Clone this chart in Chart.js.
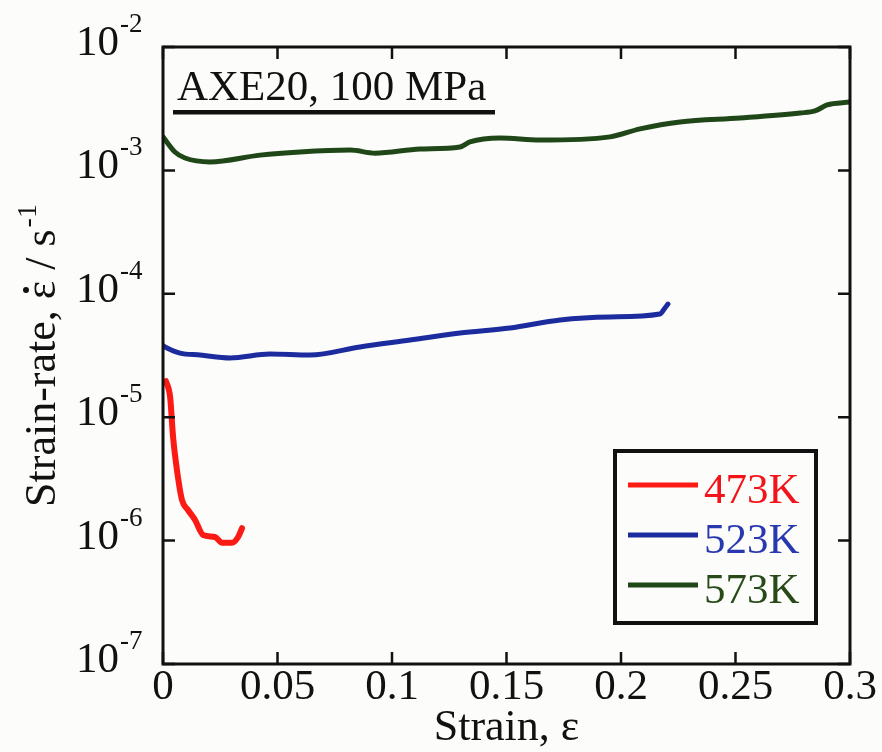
<!DOCTYPE html>
<html>
<head>
<meta charset="utf-8">
<script src="https://cdn.jsdelivr.net/npm/chart.js@4/dist/chart.umd.min.js"></script>
<style>
    body { margin: 0; background: #fcfcfa; }
    #wrap { width: 882px; height: 752px; }
</style>
</head>
<body>
<div id="wrap"><canvas id="chart" width="882" height="752"></canvas></div>
<script>
// strain (x) and strain-rate (y, 1/s)
const strain473 = [0.0013, 0.0031, 0.0044, 0.0061, 0.0083, 0.0109, 0.0140, 0.0175, 0.0227, 0.0258, 0.0301, 0.0328, 0.0345];
const rate473 = [1.96e-5, 1.46e-5, 6.92e-6, 3.73e-6, 2.13e-6, 1.77e-6, 1.47e-6, 1.11e-6, 1.07e-6, 9.6e-7, 9.6e-7, 1.07e-6, 1.26e-6];

const strain523 = [0.0, 0.0009, 0.0074, 0.0162, 0.0293, 0.0467, 0.0642, 0.0860, 0.1079, 0.1297, 0.1515, 0.1734, 0.1952, 0.2170, 0.2192, 0.2205];
const rate523 = [3.8e-5, 3.71e-5, 3.31e-5, 3.19e-5, 3.02e-5, 3.25e-5, 3.19e-5, 3.71e-5, 4.22e-5, 4.81e-5, 5.28e-5, 6.14e-5, 6.49e-5, 6.86e-5, 7.67e-5, 8.26e-5];

const strain573 = [0.0, 0.0052, 0.0096, 0.0205, 0.0424, 0.0598, 0.0817, 0.0926, 0.1122, 0.1297, 0.1340, 0.1472, 0.1646, 0.1952, 0.2083, 0.2258, 0.2520, 0.2782, 0.2847, 0.2900, 0.3000];
const rate573 = [1.87e-3, 1.41e-3, 1.26e-3, 1.17e-3, 1.33e-3, 1.41e-3, 1.46e-3, 1.38e-3, 1.49e-3, 1.55e-3, 1.70e-3, 1.83e-3, 1.76e-3, 1.87e-3, 2.17e-3, 2.47e-3, 2.66e-3, 2.92e-3, 3.03e-3, 3.39e-3, 3.58e-3];

const seriesLabels = ['473K', '523K', '573K'];
const seriesColors = ['#fb1a14', '#1c2c9e', '#1f4718'];
const legendTextColors = ['#f2141a', '#2838ae', '#284a18'];

const xTicks = [0, 0.05, 0.1, 0.15, 0.2, 0.25, 0.3];
const xTickLabels = ['0', '0.05', '0.1', '0.15', '0.2', '0.25', '0.3'];
const yExponents = [-7, -6, -5, -4, -3, -2];

const panelTitle = 'AXE20, 100 MPa';

const FONT = '"Liberation Serif", "Times New Roman", serif';

const toPoints = (xs, ys) => xs.map((x, i) => ({ x: x, y: ys[i] }));

const frame = {
    id: 'frame',
    beforeDraw(chart) {
        const { ctx } = chart;
        ctx.save();
        ctx.fillStyle = '#fcfcfa';
        ctx.fillRect(0, 0, chart.width, chart.height);
        ctx.restore();
    },
    afterDraw(chart) {
        const { ctx, chartArea: a, scales: { x, y } } = chart;
        ctx.save();

        // box + inward ticks
        ctx.strokeStyle = '#111';
        ctx.lineWidth = 3;
        ctx.strokeRect(a.left, a.top, a.right - a.left, a.bottom - a.top);
        ctx.lineWidth = 2.5;
        ctx.beginPath();
        xTicks.forEach(v => {
            const px = x.getPixelForValue(v);
            ctx.moveTo(px, a.bottom); ctx.lineTo(px, a.bottom - 12);
            ctx.moveTo(px, a.top); ctx.lineTo(px, a.top + 12);
        });
        yExponents.forEach(e => {
            const py = y.getPixelForValue(Math.pow(10, e));
            ctx.moveTo(a.left, py); ctx.lineTo(a.left + 12, py);
            ctx.moveTo(a.right, py); ctx.lineTo(a.right - 12, py);
        });
        ctx.stroke();

        // tick labels
        ctx.fillStyle = '#111';
        ctx.textBaseline = 'alphabetic';
        ctx.font = '43px ' + FONT;
        ctx.textAlign = 'center';
        xTicks.forEach((v, i) => {
            ctx.fillText(xTickLabels[i], x.getPixelForValue(v), a.bottom + 35);
        });
        yExponents.forEach(e => {
            const py = y.getPixelForValue(Math.pow(10, e));
            ctx.font = '43px ' + FONT;
            ctx.textAlign = 'right';
            ctx.fillText('10', 119, py + 8);
            ctx.font = '27px ' + FONT;
            ctx.textAlign = 'left';
            ctx.fillText(String(e), 120, py - 15);
        });

        // x title
        ctx.font = '44px ' + FONT;
        ctx.textAlign = 'center';
        ctx.fillText('Strain, \u03b5', (a.left + a.right) / 2, 740);

        // y title, rotated
        ctx.save();
        ctx.translate(55, (a.top + a.bottom) / 2);
        ctx.rotate(-Math.PI / 2);
        ctx.textAlign = 'left';
        const big = '44px ' + FONT, small = '28px ' + FONT;
        const p1 = 'Strain-rate, ', p2 = '\u03b5', p3 = ' / s', p4 = '-1';
        ctx.font = big;
        const w1 = ctx.measureText(p1).width, w2 = ctx.measureText(p2).width, w3 = ctx.measureText(p3).width;
        ctx.font = small;
        const w4 = ctx.measureText(p4).width;
        let cx = -(w1 + w2 + w3 + w4 + 2) / 2;
        ctx.font = big;
        ctx.fillText(p1, cx, 0); cx += w1;
        ctx.fillText(p2, cx, 0);
        ctx.beginPath();
        ctx.arc(cx + w2 / 2, -29, 3, 0, Math.PI * 2);
        ctx.fill();
        cx += w2;
        ctx.fillText(p3, cx, 0); cx += w3 + 2;
        ctx.font = small;
        ctx.fillText(p4, cx, -19);
        ctx.restore();

        // panel title with underline
        ctx.font = '43px ' + FONT;
        ctx.textAlign = 'left';
        ctx.fillText(panelTitle, 177, 100);
        ctx.fillRect(173, 110, 322, 4.5);

        // legend
        ctx.lineWidth = 4;
        ctx.strokeStyle = '#111';
        ctx.strokeRect(615, 451, 201, 172);
        seriesLabels.forEach((lab, i) => {
            const ly = 485 + i * 50;
            ctx.strokeStyle = seriesColors[i];
            ctx.lineWidth = 5;
            ctx.beginPath();
            ctx.moveTo(628, ly); ctx.lineTo(698, ly);
            ctx.stroke();
            ctx.fillStyle = legendTextColors[i];
            ctx.font = '43px ' + FONT;
            ctx.fillText(lab, 704, ly + 18);
        });

        ctx.restore();
    },
};

new Chart(document.getElementById('chart'), {
    type: 'line',
    data: {
        datasets: [
            { label: seriesLabels[0], data: toPoints(strain473, rate473), borderColor: seriesColors[0], borderWidth: 6 },
            { label: seriesLabels[1], data: toPoints(strain523, rate523), borderColor: seriesColors[1], borderWidth: 5 },
            { label: seriesLabels[2], data: toPoints(strain573, rate573), borderColor: seriesColors[2], borderWidth: 5 },
        ],
    },
    options: {
        responsive: false,
        animation: false,
        layout: { padding: { left: 163, top: 47, right: 32, bottom: 88 } },
        elements: {
            point: { radius: 0 },
            line: { cubicInterpolationMode: 'monotone', borderJoinStyle: 'round', borderCapStyle: 'round' },
        },
        plugins: { legend: { display: false }, tooltip: { enabled: false } },
        scales: {
            x: {
                type: 'linear', min: 0, max: 0.3,
                grid: { display: false }, border: { display: false }, ticks: { display: false },
                afterFit: s => { s.height = 0; },
            },
            y: {
                type: 'logarithmic', min: 1e-7, max: 1e-2,
                grid: { display: false }, border: { display: false }, ticks: { display: false },
                afterFit: s => { s.width = 0; },
            },
        },
    },
    plugins: [frame],
});
</script>
</body>
</html>
